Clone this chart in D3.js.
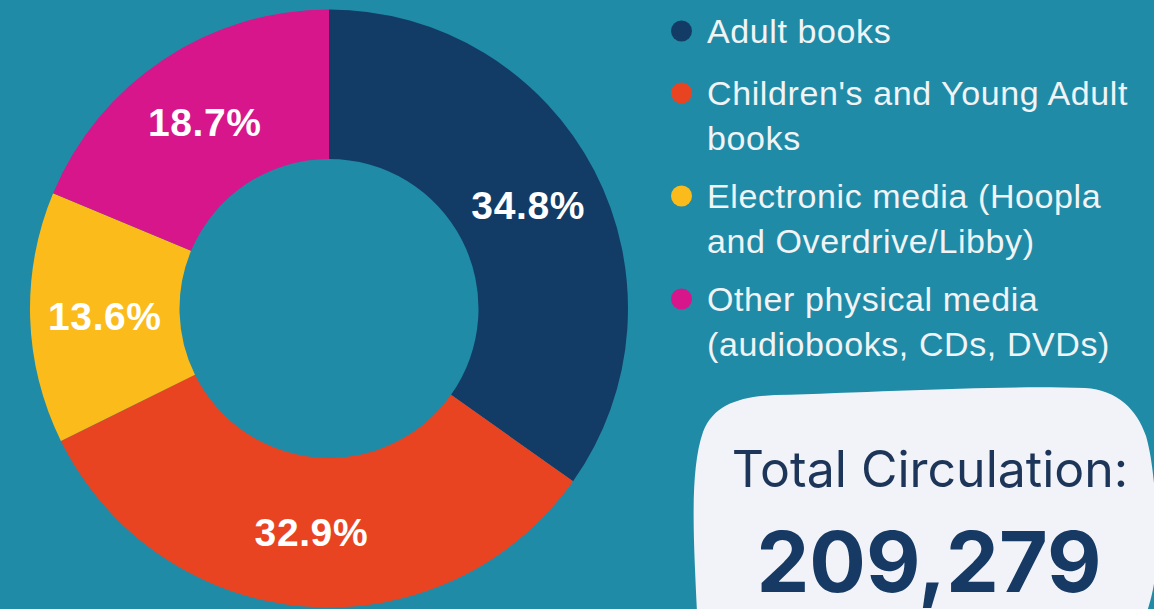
<!DOCTYPE html>
<html>
<head>
<meta charset="utf-8">
<script src="https://cdn.jsdelivr.net/npm/d3@7"></script>
<style>
  html, body { margin: 0; padding: 0; background: #208ba7; }
  svg { display: block; }
</style>
</head>
<body>
<svg id="chart" width="1154" height="609"></svg>
<script>
const categories = ["Adult books", "Children's and Young Adult books", "Electronic media (Hoopla and Overdrive/Libby)", "Other physical media (audiobooks, CDs, DVDs)"];
const legendLines = [["Adult books"], ["Children's and Young Adult", "books"], ["Electronic media (Hoopla", "and Overdrive/Libby)"], ["Other physical media", "(audiobooks, CDs, DVDs)"]];
const values = [34.8, 32.9, 13.6, 18.7];
const colors = ["#123c66", "#e94422", "#fbbb1b", "#d6168a"];
const totalLabel = "Total Circulation:";
const totalValue = 209279;

const svg = d3.select("#chart");
const W = 1154, H = 609;
svg.append("rect").attr("width", W).attr("height", H).attr("fill", "#208ba7");

const cx = 329, cy = 308.5, rOuter = 299, rInner = 149.5;
const g = svg.append("g").attr("transform", `translate(${cx},${cy})`);
const pie = d3.pie().sort(null).value(d => d);
const arc = d3.arc().innerRadius(rInner).outerRadius(rOuter);
const arcs = pie(values);
g.selectAll("path.slice").data(arcs).join("path")
  .attr("class", "slice")
  .attr("d", arc)
  .attr("fill", (d, i) => colors[i]);

g.selectAll("text.lbl").data(arcs).join("text")
  .attr("class", "lbl")
  .attr("transform", d => `translate(${arc.centroid(d)})`)
  .attr("dy", "0.36em")
  .attr("text-anchor", "middle")
  .attr("font-family", "'Liberation Sans', Arial, sans-serif")
  .attr("font-weight", "bold")
  .attr("font-size", 39)
  .attr("letter-spacing", 0.6)
  .attr("fill", "#ffffff")
  .text(d => d3.format(".1f")(d.data) + "%");

// Legend
const legendY = d3.scaleOrdinal().domain(categories).range([31, 93, 196, 299]);
const leg = svg.append("g");
categories.forEach((c, i) => {
  const y = legendY(c);
  leg.append("circle").attr("cx", 681.5).attr("cy", y).attr("r", 10.5).attr("fill", colors[i]);
  const t = leg.append("text")
    .attr("x", 707).attr("y", y + 12.3)
    .attr("font-family", "'Liberation Sans', Arial, sans-serif")
    .attr("font-size", 34)
    .attr("letter-spacing", 0.6)
    .attr("fill", "#f1f4f6");
  legendLines[i].forEach((ln, j) => {
    t.append("tspan").attr("x", 707).attr("dy", j === 0 ? 0 : 44.5).text(ln);
  });
});

// Total box
svg.append("path")
  .attr("d", "M697,612 C694,545 689,472 703,432 C714,404 740,397 775,395 C880,392 1000,385 1085,388 C1118,390 1137,410 1146,436 C1156,470 1158,535 1156,568 C1154,590 1150,602 1147,612 Z")
  .attr("fill", "#f1f3f8");
svg.append("text")
  .attr("x", 930).attr("y", 486.5)
  .attr("text-anchor", "middle")
  .attr("font-family", "Inter, 'Open Sans', sans-serif")
  .attr("font-size", 50)
  .attr("fill", "#1c3558")
  .text(totalLabel);
svg.append("text")
  .attr("x", 929).attr("y", 592)
  .attr("text-anchor", "middle")
  .attr("font-family", "Inter, 'Open Sans', sans-serif")
  .attr("font-weight", "bold")
  .attr("font-size", 84)
  .attr("fill", "#163a64")
  .text(d3.format(",")(totalValue));
</script>
</body>
</html>
